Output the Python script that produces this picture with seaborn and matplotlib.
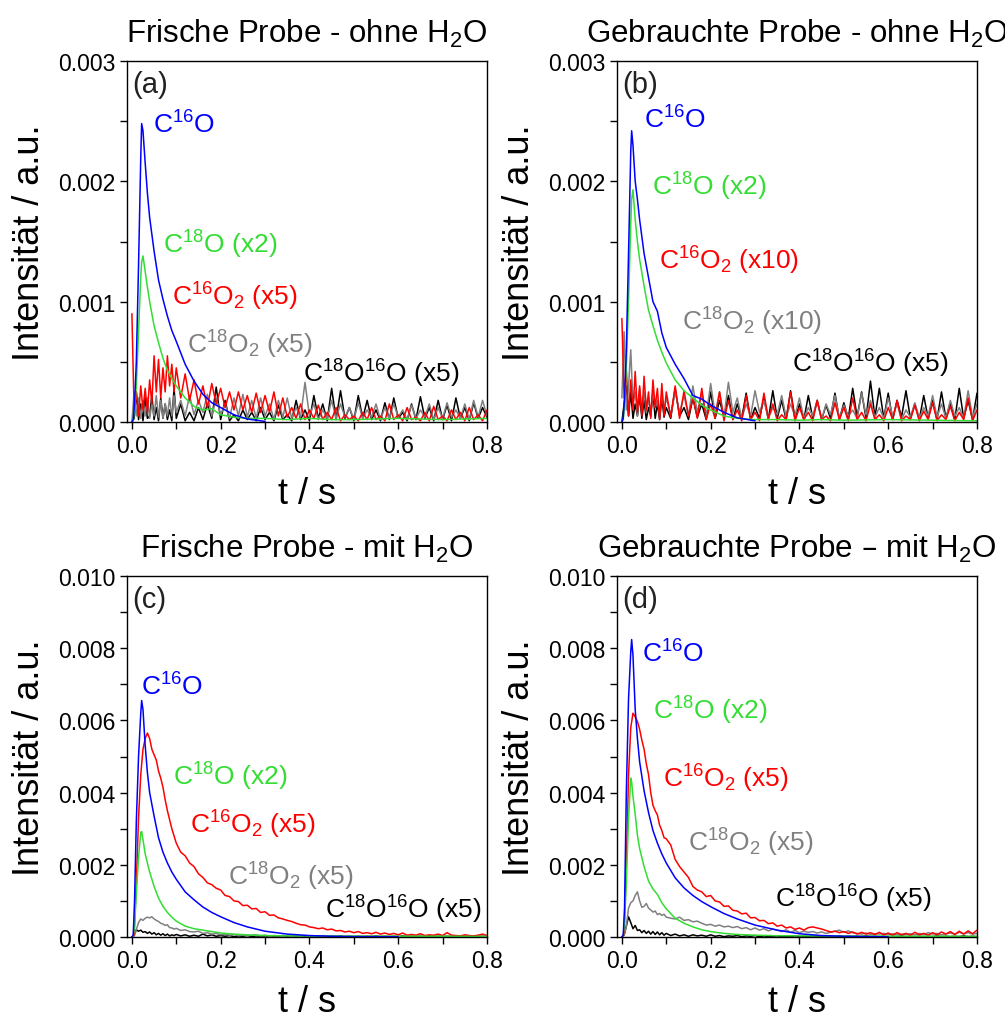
import numpy as np
import pandas as pd
import matplotlib
matplotlib.use("Agg")
import matplotlib.pyplot as plt
import seaborn as sns
from matplotlib.ticker import MultipleLocator, FormatStrFormatter

# ---------------- data (intensities in units of 1e-4 a.u.) ----------------
# coarse time grid (smooth CO traces)
T_C = [0, .003, .006, .01, .015, .02, .022, .025, .03, .035,
       .04, .05, .06, .07, .08, .09, .1, .12, .14, .16,
       .18, .2, .23, .26, .3, .35, .4, .45, .5, .6,
       .7, .8]
# fine time grid (noisy / rippled CO2 traces)
T_F = [0, .005, .01, .015, .02, .025, .03, .035, .04, .045, .05,
       .055, .06, .065, .07, .075, .08, .085, .09, .095, .1,
       .11, .12, .13, .14, .15, .16, .17, .18, .19, .2,
       .21, .22, .23, .24, .25, .26, .27, .28, .29, .3,
       .31, .32, .33, .34, .35, .36, .37, .38, .39, .4,
       .41, .42, .43, .44, .45, .46, .47, .48, .49, .5,
       .51, .52, .53, .54, .55, .56, .57, .58, .59, .6,
       .61, .62, .63, .64, .65, .66, .67, .68, .69, .7,
       .71, .72, .73, .74, .75, .76, .77, .78, .79, .8]
nan = float("nan")

# ---- panel (a): fresh sample, without H2O ----
a_c16o = [0, 0.2, 1.5, 5, 13, 22, 24.8, 24.2, 21.5, 19,
          17, 14.2, 11.8, 10.2, 8.8, 7.6, 6.7, 4.8, 3.4, 2.3,
          1.6, 1.2, 0.6, 0.25, 0.05, nan, nan, nan, nan, nan, nan, nan]
a_c18o = [0, 0.1, 1, 3, 7.5, 12, 13.3, 13.8, 12.5, 11.2,
          10, 8, 6.6, 5.3, 4.3, 3.6, 3, 2, 1.3, 1,
          1.1, 0.6, 0.4, 0.3, 0.3, 0.2, 0.3, 0.2, 0.2, 0.3, 0.2, 0.3]
a_c16o2 = [9, 1, 2.5, 0.5, 3, 1, 2.8, 0.8, 3.5, 1.5, 5.5, 2.5, 5.2, 2, 4.5, 2.5, 5.5, 3, 4.8, 2.5, 4.5,
           2, 4, 1.8, 3.5, 1.5, 3, 1.2, 3.2, 1.5, 2.8,
           1.2, 2.5, 1, 2.5, 1, 2.2, 0.8, 2.4, 0.8, 2.2,
           0.8, 2.5, 0.5, 2, 0.4, 1.2, 0.3, 1.5, 0.2, 1,
           0.3, 1.4, 0.2, 0.8, 0.2, 1.2, 0.1, 0.6, 0.2, 0.5,
           0.1, 0.8, 0.2, 1.2, 0.2, 0.5, 0.1, 1.5, 0.2, 0.6,
           0.1, 1.2, 0.2, 0.4, 0.1, 0.8, 0.1, 1.3, 0.2, 0.5,
           0.1, 1, 0.2, 0.8, 0.1, 1.2, 0.2, 0.6, 0.1, 1]
a_c18o2 = [0, 2.5, 0.5, 2, 0.3, 1.8, 0.5, 2, 0.3, 1.5, 0.5, 2.2, 0.4, 1.8, 0.3, 1.5, 0.5, 2, 0.5, 2.2, 0.8,
           1.8, 0.5, 2.2, 0.6, 1.8, 0.8, 2.3, 0.5, 2, 0.6,
           1.5, 0.3, 2, 0.5, 2.3, 0.4, 1.8, 0.3, 2, 0.5,
           1.5, 0.2, 1.8, 0.4, 2, 0.3, 1.2, 0.4, 3.3, 0.5,
           1.5, 0.2, 1, 0.3, 1.8, 0.3, 1.5, 0.4, 1.2, 0.2,
           1.6, 0.3, 1, 0.4, 1.5, 0.2, 1.2, 0.3, 1.5, 0.4,
           1, 0.2, 1.4, 0.3, 1, 0.4, 1.5, 0.2, 1.2, 0.3,
           1.6, 0.4, 1, 0.3, 1.5, 0.2, 1.8, 0.4, 1.8, 0.5]
a_c18o16o = [0, 0.3, 2.5, 0.2, 1.5, 0.1, 2, 0.3, 0.5, 2.2, 0.2, 1.2, 0.1, 2, 0.3, 1.5, 0.2, 1, 0.1, 2.8, 0.3,
             1.5, 0.1, 0.8, 0.1, 1.2, 0.2, 1.5, 0.3, 2.9, 0.2,
             1.8, 0.1, 0.6, 0.1, 1, 0.2, 0.8, 0.1, 1.2, 0.2,
             0.8, 0.1, 1.4, 0.2, 0.6, 0.1, 1.8, 0.2, 1, 0.1,
             2.2, 0.3, 1.5, 0.1, 2.8, 0.2, 2.6, 0.3, 1.2, 0.1,
             2.2, 0.3, 1.8, 0.2, 1, 0.1, 1.6, 0.2, 2, 0.3,
             0.8, 0.1, 1.5, 0.2, 2.1, 0.3, 1.2, 0.1, 1.8, 0.2,
             1.4, 0.1, 2, 0.3, 1.2, 0.1, 1.6, 0.3, 1.2, 0.4]

# ---- panel (b): used sample, without H2O ----
b_c16o = [0, 0.3, 2, 6, 14, 22.5, 24.2, 23, 20, 18.5,
          16.8, 14, 12, 10, 9.2, 7.4, 6.2, 4.8, 3.6, 2.2,
          1.9, 1.4, 0.8, 0.35, 0.1, nan, nan, nan, nan, nan, nan, nan]
b_c18o = [0, 0.2, 1.5, 4.5, 10, 16.5, 18.5, 19.3, 16.8, 15,
          13.5, 11.3, 9.3, 8, 6.8, 5.8, 4.9, 3.5, 2.6, 2,
          1.4, 1, 0.5, 0.3, 0.2, 0.2, 0.15, 0.2, 0.15, 0.2, 0.15, 0.1]
b_c16o2 = [8.6, 2, 4.4, 0.5, 3.5, 1, 4.2, 0.8, 3, 0.5, 3.8, 1, 2.5, 0.3, 3.5, 1.2, 2.8, 0.2, 3.2, 0.5, 2.5,
           0.4, 3, 0.3, 2.6, 0.5, 2, 0.3, 2.8, 0.2, 1.5,
           0.3, 2.5, 0.1, 1.8, 0.2, 1, 0.1, 2.2, 0.2, 0.8,
           0.1, 2.4, 0.3, 1.5, 0.1, 0.6, 0.2, 2.5, 0.1, 1.2,
           0.2, 0.8, 0.1, 1.8, 0.2, 0.5, 0.1, 1.6, 0.2, 1.2,
           0.1, 2, 0.2, 0.8, 0.1, 1.5, 0.2, 0.6, 0.1, 1.2,
           0.2, 1.8, 0.1, 0.5, 0.2, 1.4, 0.1, 0.9, 0.2, 1.6,
           0.1, 0.6, 0.2, 1.3, 0.1, 0.8, 0.2, 2, 0.1, 1]
b_c18o2 = [2, 7.5, 1, 3, 6, 1.5, 2.5, 0.5, 2.8, 1, 2.5, 0.8, 2, 0.5, 2.6, 1.2, 1.8, 0.5, 2.4, 1, 2,
           0.6, 2.5, 0.8, 2.2, 0.5, 3, 0.8, 2.4, 0.5, 3.2,
           0.6, 2.5, 0.4, 3.3, 0.8, 2, 0.3, 1.5, 0.5, 2.6,
           0.8, 1.8, 0.3, 1.2, 0.6, 2.2, 0.4, 1.5, 0.5, 2,
           0.3, 1.2, 0.5, 1.8, 0.2, 1.5, 0.6, 2.2, 0.3, 1.4,
           0.5, 1, 0.3, 2.4, 0.6, 1.8, 0.4, 1.2, 0.3, 2,
           0.5, 1.5, 0.2, 1, 0.4, 1.6, 0.3, 1.2, 0.5, 2.2,
           0.4, 1.5, 0.3, 1.8, 0.5, 1.2, 0.3, 2.6, 0.4, 1.5]
b_c18o16o = [0, 1.5, 3, 0.5, 2.5, 0.3, 1.5, 0.5, 2.2, 0.3, 1.8, 0.2, 1.2, 0.5, 2.5, 0.3, 1.5, 0.2, 2, 0.4, 1.2,
             0.3, 2.8, 0.5, 1.2, 0.2, 2, 0.4, 1.5, 0.2, 2.5,
             0.3, 1.8, 0.4, 2.2, 0.2, 1.5, 0.3, 2.4, 0.2, 1.2,
             0.3, 2, 0.2, 2.6, 0.3, 1.8, 0.2, 2.6, 0.3, 1.5,
             0.2, 2.2, 0.3, 1.8, 0.2, 1.4, 0.3, 2.4, 0.2, 1.6,
             0.3, 2.8, 0.4, 2.5, 0.3, 3.4, 0.4, 2.8, 0.3, 2.4,
             0.2, 1.8, 0.4, 2.6, 0.3, 1.5, 0.2, 2.2, 0.3, 1.8,
             0.2, 2.5, 0.3, 1.6, 0.2, 2.8, 0.3, 1.8, 0.2, 2.4]

# ---- panel (c): fresh sample, with H2O ----
c_c16o = [0, 0.5, 10, 32, 50, 62, 65.5, 63, 53, 45.5,
          40, 33.5, 27.5, 23.5, 20.5, 18, 16, 12.5, 10.3, 8.3,
          6.8, 5.6, 4, 2.8, 1.6, 0.8, 0.4, 0.2, 0.1, 0.05, nan, nan]
c_c18o = [0, 0.1, 3, 12, 22, 29, 29.2, 27, 23, 20.5,
          18, 14, 10.8, 8.5, 6.8, 5.5, 4.4, 3, 2.3, 1.9,
          1.5, 1.1, 0.8, 0.6, 0.4, 0.3, 0.3, 0.25, 0.2, 0.2, 0.2, 0.15]
c_c16o2 = [0, 0.5, 15, 33, 45, 52, 55, 56.5, 55, 52, 50.5, 49, 46, 44, 41.5, 38, 35, 32.5, 30, 28, 26,
           23.5, 22.5, 20.5, 19.5, 17.5, 16.5, 15, 14.5, 13.5, 13,
           11.5, 11.2, 10, 9.8, 8.7, 8.8, 7.8, 7.9, 6.8, 7,
           6, 6.1, 5.3, 5, 4.6, 4.3, 3.8, 3.4, 3.3, 2.8,
           2.6, 2.3, 2.5, 2, 2.2, 1.7, 1.8, 1.4, 1.6, 1.2,
           1.5, 1, 1.2, 0.9, 1.3, 0.8, 1.1, 0.7, 1, 0.6,
           1.1, 0.5, 0.7, 0.5, 0.9, 0.4, 0.6, 0.5, 0.8, 0.4,
           1.2, 0.5, 0.4, 0.3, 0.6, 0.4, 0.3, 0.5, 0.8, 0.4]
c_c18o2 = [0, 0.2, 2, 4, 5, 4.6, 5.2, 5.5, 5.3, 5.6, 5, 4.6, 4.3, 3.8, 3.6, 3.2, 3.4, 2.6, 2.5, 2.2, 2.4,
           1.8, 2, 1.5, 1.4, 1.6, 1, 1.2, 0.8, 1, 0.6,
           0.8, 0.5, 0.7, 0.4, 0.6, 0.3, 0.5, 0.6, 0.3, 0.5,
           0.2, 0.4, 0.3, 0.2, 0.4, 0.2, 0.3, 0.2, 0.4, 0.1,
           0.2, 0.3, 0.1, 0.2, 0.1, 0.3, 0.1, 0.2, 0.1, 0.2,
           0.1, 0.2, 0.1, 0.3, 0.1, 0.2, 0.1, 0.2, 0.1, 0.2,
           0.1, 0.3, 0.1, 0.2, 0.1, 0.2, 0.1, 0.3, 0.1, 0.2,
           0.1, 0.2, 0.1, 0.3, 0.1, 0.2, 0.1, 0.2, 0.1, 0.2]
c_c18o16o = [0, 0.5, 2, 1.6, 1.9, 1.3, 1.5, 1, 1.4, 0.8, 1.2, 0.6, 1, 0.5, 0.9, 0.4, 0.8, 0.3, 0.6, 0.4, 0.7,
             0.3, 0.6, 0.2, 0.5, 0.2, 0.8, 0.3, 0.6, 0.2, 0.4,
             0.2, 0.4, 0.1, 0.3, 0.2, 0.4, 0.1, 0.3, 0.2, 0.3,
             0.1, 0.3, 0.2, 0.4, 0.1, 0.2, 0.1, 0.3, 0.2, 0.1,
             0.2, 0.1, 0.3, 0.1, 0.2, 0.1, 0.3, 0.1, 0.2, 0.1,
             0.2, 0.1, 0.2, 0.1, 0.3, 0.1, 0.2, 0.1, 0.2, 0.1,
             0.3, 0.1, 0.2, 0.1, 0.2, 0.1, 0.3, 0.1, 0.2, 0.1,
             0.2, 0.1, 0.3, 0.1, 0.2, 0.1, 0.2, 0.1, 0.2, 0.1]

# ---- panel (d): used sample, with H2O ----
d_c16o = [0, 0.5, 8, 40, 66, 79, 82.4, 78, 63, 55,
          48.5, 40.5, 34.5, 29.5, 26, 23, 20.5, 16.4, 13.6, 11.5,
          9.8, 8.4, 6.5, 5, 3.3, 1.9, 0.9, 0.4, 0.2, 0.05, nan, nan]
d_c18o = [0, 0.2, 4, 15, 33, 44, 43, 39, 34, 28.2,
          24.5, 19.5, 15.5, 13.3, 11.8, 9.5, 7.8, 5.2, 3.8, 2.8,
          2, 1.5, 1, 0.7, 0.5, 0.35, 0.3, 0.3, 0.25, 0.2, 0.2, 0.15]
d_c16o2 = [0, 1, 20, 45, 58, 62, 61, 59.7, 57.5, 54.5, 52, 48, 45, 40, 36.5, 35, 33.8, 31, 29.5, 27.5, 27.2,
           25.5, 21.5, 19.5, 18, 16.5, 14, 13, 12.5, 11.2, 11.5,
           10, 9.7, 8.5, 8.6, 7.4, 7.2, 6.4, 6.6, 5.3, 5.4,
           4.5, 4.6, 3.7, 3.9, 3, 3.3, 2.5, 2.8, 2.1, 2.5,
           1.9, 2.6, 2.8, 2.5, 2.2, 1.8, 1.4, 1.6, 1.2, 1.5,
           1, 1.4, 0.8, 1.3, 0.8, 1.2, 0.7, 1.3, 0.6, 1.1,
           0.5, 1.2, 0.6, 1, 0.5, 1.3, 0.6, 1, 0.5, 1.2,
           0.6, 1.4, 0.8, 1.5, 0.7, 1.6, 0.8, 1.7, 0.9, 1.9]
d_c18o2 = [0, 0.5, 3, 8, 9.5, 10, 11.5, 12.5, 10, 8.2, 8.5, 9.3, 8, 7.5, 6.9, 7.2, 6.2, 6.5, 6, 6.3, 5.5,
           5.2, 5, 5.5, 4.6, 4.8, 4.2, 4.4, 3.8, 3.3, 3.5,
           3, 3.3, 2.8, 3, 2.6, 2.9, 2.3, 2.6, 2, 2.5,
           1.9, 2.3, 1.7, 2.2, 1.9, 1.5, 2, 1.3, 1.8, 1.2,
           1.6, 1.3, 1.5, 1.1, 1.4, 1, 1.3, 1.6, 1.9, 1.3,
           1.7, 1.2, 1, 0.8, 1.1, 0.7, 0.9, 0.8, 1, 0.7,
           0.9, 0.6, 0.8, 0.7, 0.9, 0.6, 1, 0.7, 1.2, 0.8,
           1, 0.6, 0.9, 1.1, 0.8, 1.3, 0.9, 1.2, 0.8, 1]
d_c18o16o = [0, 0.5, 3, 5.6, 4, 2.3, 3.2, 1.8, 2, 1.2, 1.8, 1, 1.6, 0.8, 1.5, 0.7, 1.4, 0.6, 1.2, 0.5, 1,
             0.4, 0.8, 0.3, 0.6, 0.2, 0.6, 0.3, 0.5, 0.2, 0.6,
             0.2, 0.4, 0.1, 0.3, 0.2, 0.4, 0.1, 0.3, 0.2, 0.4,
             0.1, 0.3, 0.1, 0.2, 0.3, 0.1, 0.2, 0.1, 0.3, 0.1,
             0.2, 0.1, 0.3, 0.1, 0.2, 0.1, 0.2, 0.1, 0.3, 0.1,
             0.2, 0.1, 0.2, 0.1, 0.3, 0.1, 0.2, 0.1, 0.2, 0.1,
             0.2, 0.1, 0.3, 0.1, 0.2, 0.1, 0.2, 0.1, 0.2, 0.1,
             0.3, 0.1, 0.2, 0.1, 0.2, 0.1, 0.3, 0.1, 0.2, 0.1]

SERIES = ["C18O16O", "C18O2", "C16O2", "C18O", "C16O"]   # draw order
COLORS = {"C16O": "#0000FF", "C18O": "#33DD33", "C16O2": "#FF0000",
          "C18O2": "#808080", "C18O16O": "#000000"}

titles = ["Frische Probe - ohne H$_2$O", "Gebrauchte Probe - ohne H$_2$O",
          "Frische Probe - mit H$_2$O", "Gebrauchte Probe \u2013 mit H$_2$O"]
panel_tags = ["(a)", "(b)", "(c)", "(d)"]
y_max = [0.003, 0.003, 0.010, 0.010]

panel_data = [
    dict(C16O=a_c16o, C18O=a_c18o, C16O2=a_c16o2, C18O2=a_c18o2, C18O16O=a_c18o16o),
    dict(C16O=b_c16o, C18O=b_c18o, C16O2=b_c16o2, C18O2=b_c18o2, C18O16O=b_c18o16o),
    dict(C16O=c_c16o, C18O=c_c18o, C16O2=c_c16o2, C18O2=c_c18o2, C18O16O=c_c18o16o),
    dict(C16O=d_c16o, C18O=d_c18o, C16O2=d_c16o2, C18O2=d_c18o2, C18O16O=d_c18o16o),
]

# annotation labels: (text, series, x, y)
labels = [
    [("C$^{16}$O", "C16O", 0.048, 0.00248), ("C$^{18}$O (x2)", "C18O", 0.069, 0.00148),
     ("C$^{16}$O$_2$ (x5)", "C16O2", 0.091, 0.00105), ("C$^{18}$O$_2$ (x5)", "C18O2", 0.125, 0.00065),
     ("C$^{18}$O$^{16}$O (x5)", "C18O16O", 0.386, 0.00041)],
    [("C$^{16}$O", "C16O", 0.050, 0.00252), ("C$^{18}$O (x2)", "C18O", 0.068, 0.00196),
     ("C$^{16}$O$_2$ (x10)", "C16O2", 0.084, 0.00135), ("C$^{18}$O$_2$ (x10)", "C18O2", 0.136, 0.00084),
     ("C$^{18}$O$^{16}$O (x5)", "C18O16O", 0.384, 0.00049)],
    [("C$^{16}$O", "C16O", 0.021, 0.00695), ("C$^{18}$O (x2)", "C18O", 0.093, 0.00446),
     ("C$^{16}$O$_2$ (x5)", "C16O2", 0.132, 0.00313), ("C$^{18}$O$_2$ (x5)", "C18O2", 0.217, 0.00169),
     ("C$^{18}$O$^{16}$O (x5)", "C18O16O", 0.436, 0.00078)],
    [("C$^{16}$O", "C16O", 0.046, 0.00787), ("C$^{18}$O (x2)", "C18O", 0.070, 0.00629),
     ("C$^{16}$O$_2$ (x5)", "C16O2", 0.093, 0.00440), ("C$^{18}$O$_2$ (x5)", "C18O2", 0.149, 0.00263),
     ("C$^{18}$O$^{16}$O (x5)", "C18O16O", 0.344, 0.00108)],
]

# ---------------- style ----------------
sns.set_style("ticks")
plt.rcParams["font.family"] = ["Liberation Sans", "DejaVu Sans"]
plt.rcParams["mathtext.default"] = "regular"
plt.rcParams["axes.linewidth"] = 1.0
for key in ("text.color", "axes.labelcolor", "xtick.color", "ytick.color", "axes.edgecolor"):
    plt.rcParams[key] = "black"

fig = plt.figure(figsize=(10.05, 10.20), dpi=100)
W, H = 1005, 1020
boxes = [(127, 62), (617, 62), (127, 577), (617, 577)]
aw, ah = 360, 361

for i in range(4):
    x0, y0 = boxes[i]
    ax = fig.add_axes([x0 / W, 1 - (y0 + ah) / H, aw / W, ah / H])
    frames = []
    for s in SERIES:
        vals = panel_data[i][s]
        tt = T_C if s in ("C16O", "C18O") else T_F
        frames.append(pd.DataFrame({"t": tt, "v": np.asarray(vals, float) * 1e-4, "s": s}))
    df = pd.concat(frames, ignore_index=True)
    sns.lineplot(data=df, x="t", y="v", hue="s", hue_order=SERIES, palette=COLORS,
                 estimator=None, sort=False, legend=False, linewidth=1.1, ax=ax)

    ax.set_xlim(-0.011, 0.8)
    ax.set_ylim(0, y_max[i])
    ax.xaxis.set_major_locator(MultipleLocator(0.2))
    ax.xaxis.set_minor_locator(MultipleLocator(0.1))
    ax.xaxis.set_major_formatter(FormatStrFormatter("%.1f"))
    if y_max[i] < 0.005:
        ax.yaxis.set_major_locator(MultipleLocator(0.001))
        ax.yaxis.set_minor_locator(MultipleLocator(0.0005))
    else:
        ax.yaxis.set_major_locator(MultipleLocator(0.002))
        ax.yaxis.set_minor_locator(MultipleLocator(0.001))
    ax.yaxis.set_major_formatter(FormatStrFormatter("%.3f"))
    ax.tick_params(which="both", direction="out", length=5, width=1,
                   top=False, right=False, labelsize=16.5, colors="black")
    for sp in ax.spines.values():
        sp.set_visible(True)
        sp.set_linewidth(1.0)
        sp.set_color("black")

    ax.set_xlabel("t / s", fontsize=26, labelpad=14 if i < 2 else 9)
    ax.set_ylabel("Intensität / a.u.", fontsize=26, labelpad=8)
    ax.set_title(titles[i], fontsize=22.5, pad=14)

    ax.text(0.014, 0.935, panel_tags[i], transform=ax.transAxes,
            fontsize=21, va="center", ha="left", color="#222222")
    for txt, s, lx, ly in labels[i]:
        ax.text(lx, ly, txt, color=COLORS[s], fontsize=19, va="center", ha="left")

fig.savefig("out.png", dpi=100)
